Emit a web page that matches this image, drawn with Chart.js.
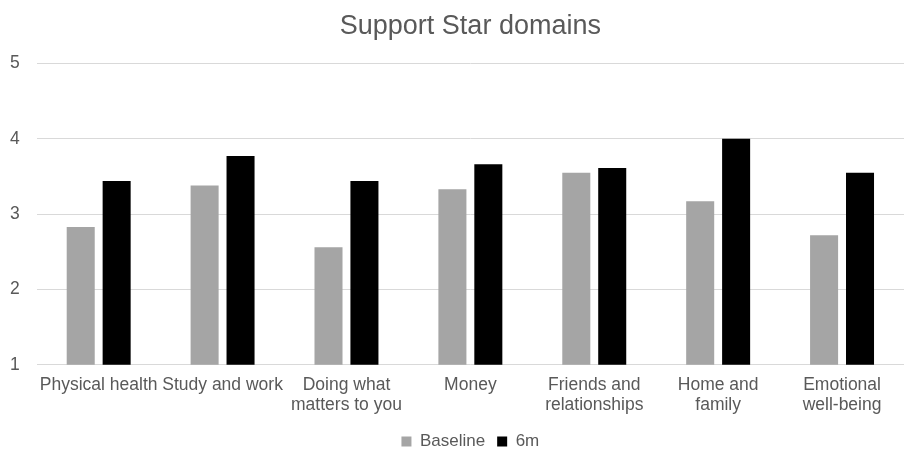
<!DOCTYPE html>
<html>
<head>
<meta charset="utf-8">
<script src="https://cdn.jsdelivr.net/npm/chart.js@4"></script>
<style>
html,body{margin:0;padding:0;background:#fff;}
#wrap{width:909px;height:450px;position:relative;}
</style>
</head>
<body>
<div id="wrap"><canvas id="c" width="909" height="450"></canvas></div>
<script>
const categories = [
  ["Physical health"],
  ["Study and work"],
  ["Doing what", "matters to you"],
  ["Money"],
  ["Friends and", "relationships"],
  ["Home and", "family"],
  ["Emotional", "well-being"]
];
const baseline = [2.83, 3.38, 2.56, 3.33, 3.55, 3.17, 2.72];
const sixMonths = [3.44, 3.77, 3.44, 3.66, 3.61, 4.0, 3.55];
const yTicks = [1, 2, 3, 4, 5];

const textColor = '#595959';
const fontFamily = '"Liberation Sans", Arial, sans-serif';
const yTickPad = 17;

new Chart(document.getElementById('c'), {
  type: 'bar',
  data: {
    labels: categories,
    datasets: [
      { label: 'Baseline', data: baseline, backgroundColor: '#A5A5A5', barPercentage: 0.78, categoryPercentage: 0.58 },
      { label: '6m', data: sixMonths, backgroundColor: '#000000', barPercentage: 0.78, categoryPercentage: 0.58 }
    ]
  },
  options: {
    responsive: false,
    animation: false,
    layout: { padding: { left: 10, right: 5, top: 6, bottom: -10 } },
    plugins: {
      title: {
        display: true,
        fullSize: false,
        text: 'Support Star domains',
        color: textColor,
        font: { family: fontFamily, size: 27, weight: 'normal' },
        padding: { top: 4, bottom: 21 }
      },
      legend: {
        position: 'bottom',
        fullSize: false,
        labels: {
          color: textColor,
          font: { family: fontFamily, size: 17 },
          boxWidth: 10,
          boxHeight: 10,
          padding: 12
        }
      },
      tooltip: { enabled: false }
    },
    scales: {
      x: {
        grid: { display: false },
        border: { display: false },
        afterFit: (scale) => { scale.paddingLeft = 0; scale.paddingRight = 0; scale.height += 4; },
        ticks: {
          color: textColor,
          font: { family: fontFamily, size: 17.5, lineHeight: 1.15 },
          maxRotation: 0,
          autoSkip: false,
          padding: 2
        }
      },
      y: {
        min: yTicks[0],
        max: yTicks[yTicks.length - 1],
        afterBuildTicks: (axis) => { axis.ticks = yTicks.map(v => ({ value: v })); },
        afterFit: (scale) => { scale.width -= yTickPad; },
        grid: { color: '#D9D9D9', lineWidth: 1, drawTicks: false },
        border: { display: false },
        ticks: {
          color: textColor,
          font: { family: fontFamily, size: 17.5 },
          padding: yTickPad
        }
      }
    }
  }
});
</script>
</body>
</html>
